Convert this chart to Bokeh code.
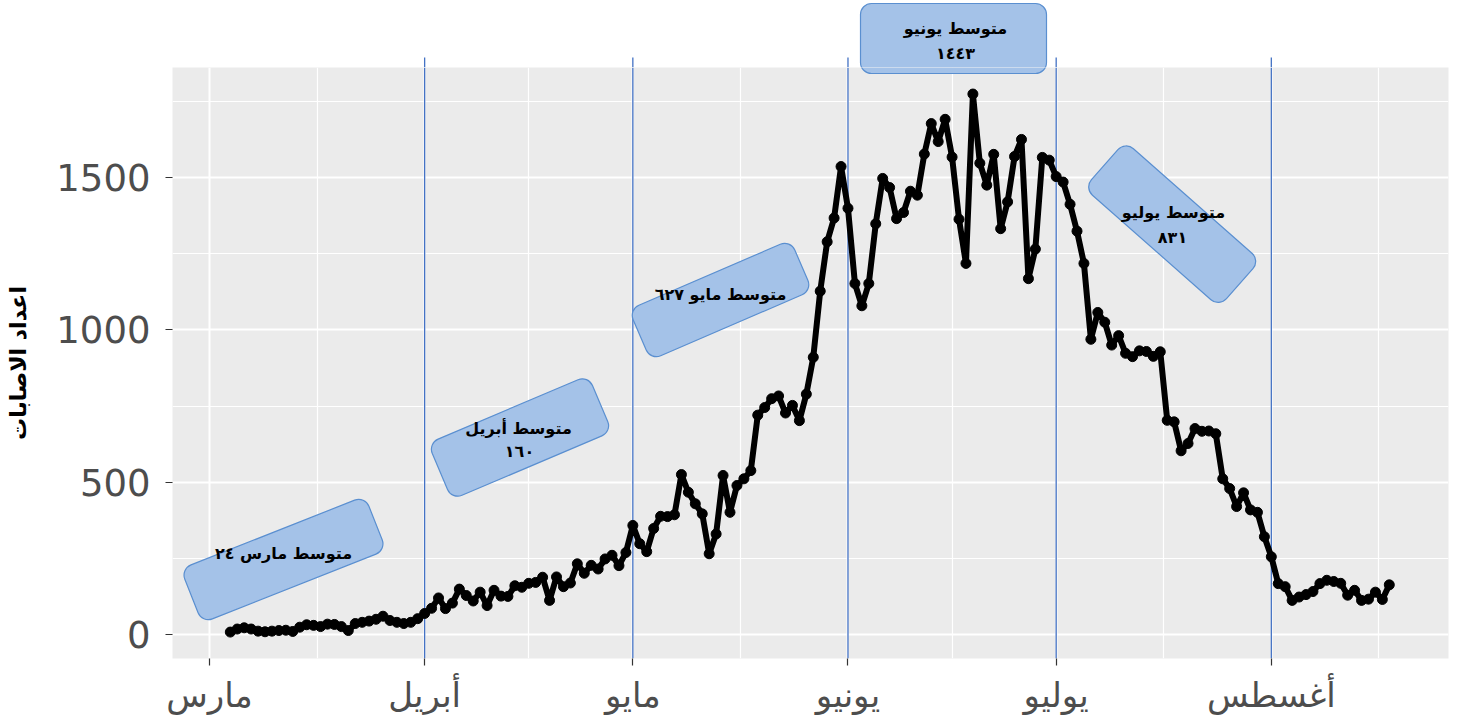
import math
from bokeh.plotting import figure
from bokeh.layouts import column
from bokeh.models import Range1d, FixedTicker, Label, ColumnDataSource, Rect, BoxAnnotation
from bokeh.embed import file_html
from bokeh.resources import INLINE

# ---------------- data ----------------
# x = day index counted from 1 March (Mar 1 = 0)
month_ticks = [0, 31, 61, 92, 122, 153]
month_labels = ["مارس", "أبريل", "مايو", "يونيو", "يوليو", "أغسطس"]
month_minor = [15.5, 46, 76.5, 107, 137.5, 168.5]
month_lines = [31, 61, 92, 122, 153]

y_ticks = [0, 500, 1000, 1500]
y_minor = [250, 750, 1250, 1750]

first_day = 3  # 4 March

march_cases = [8, 18, 22, 18, 11, 9, 11, 13, 14, 10, 24, 32, 30, 26,
               34, 33, 26, 13, 36, 40, 44, 50, 60, 46, 40, 36, 40, 52]
april_cases = [69, 86, 120, 85, 103, 149, 128, 110, 139, 95, 145, 126, 125, 160, 155,
               168, 171, 188, 112, 189, 157, 169, 232, 201, 227, 215, 248, 260, 226, 269]
may_cases = [358, 298, 272, 348, 388, 387, 393, 525, 467, 429, 396, 265, 330, 522, 401,
             489, 511, 538, 720, 745, 774, 783, 727, 752, 702, 789, 910, 1127, 1289, 1367, 1536]
june_cases = [1399, 1152, 1079, 1152, 1348, 1497, 1467, 1365, 1385, 1455, 1442, 1577, 1677, 1618, 1691,
              1567, 1363, 1218, 1774, 1547, 1475, 1576, 1332, 1420, 1569, 1625, 1168, 1265, 1566, 1557]
july_cases = [1503, 1485, 1412, 1324, 1218, 969, 1057, 1025, 950, 981, 923, 912, 931, 929, 913, 928,
              703, 698, 603, 627, 676, 667, 668, 659, 511, 479, 420, 465, 409, 401, 321]
august_cases = [255, 167, 157, 112, 123, 131, 141, 167, 178, 174, 168, 129, 145, 112, 116, 139, 115, 163]

cases = march_cases + april_cases + may_cases + june_cases + july_cases + august_cases
days = list(range(first_day, first_day + len(cases)))

y_title = "اعداد الاصابات"

FILL = "#A4C2E8"
EDGE = "#5A8FD0"
VLINE = "#4472C4"

# ---------------- geometry helpers (pixel -> data) ----------------
def px_to_day(px):
    return (px - 209) / 6.94

def py_to_val(py):
    return (634 - py) * 500 / 152.33

X_LEFT, X_RIGHT = px_to_day(172), px_to_day(1448)
Y_BOTTOM = py_to_val(658)
PANEL_TOP = py_to_val(67)
PAGE_TOP = py_to_val(0)

TOP_H = 67

# ---------------- main figure (the ggplot panel) ----------------
p = figure(width=1460, height=721 - TOP_H,
           x_range=Range1d(X_LEFT, X_RIGHT), y_range=Range1d(Y_BOTTOM, PANEL_TOP),
           output_backend="svg", toolbar_location=None,
           min_border_left=172, min_border_right=12, min_border_top=0, min_border_bottom=63,
           background_fill_color="#EBEBEB", border_fill_color="white", outline_line_color=None)

p.xaxis.ticker = FixedTicker(ticks=month_ticks, minor_ticks=month_minor)
p.yaxis.ticker = FixedTicker(ticks=y_ticks, minor_ticks=y_minor)
for g in (p.xgrid, p.ygrid):
    g.grid_line_color = "white"
    g.grid_line_width = 2
    g.minor_grid_line_color = "white"
    g.minor_grid_line_width = 1.2

p.xaxis.major_label_overrides = {t: l for t, l in zip(month_ticks, month_labels)}
for ax in (p.xaxis, p.yaxis):
    ax.axis_line_color = None
    ax.major_tick_line_color = "#333333"
    ax.major_tick_line_width = 1.2
    ax.major_tick_out = 7
    ax.major_tick_in = 0
    ax.minor_tick_out = 0
    ax.minor_tick_in = 0
    ax.major_label_text_color = "#4D4D4D"
    ax.major_label_text_font = "DejaVu Sans"

p.yaxis.major_label_text_font_size = "37px"
p.yaxis.major_label_standoff = 15
p.xaxis.major_label_text_font_size = "34px"
p.xaxis.major_label_standoff = 9

p.yaxis.axis_label = y_title
p.yaxis.axis_label_text_font = "DejaVu Sans"
p.yaxis.axis_label_text_font_size = "22px"
p.yaxis.axis_label_text_font_style = "bold"
p.yaxis.axis_label_text_color = "black"
p.yaxis.axis_label_standoff = 22

# month separator lines
p.segment(x0=month_lines, y0=[Y_BOTTOM] * len(month_lines),
          x1=month_lines, y1=[PANEL_TOP] * len(month_lines),
          line_color=VLINE, line_width=1.3)

# data
p.line(days, cases, line_color="black", line_width=6, line_join="round")
p.scatter(days, cases, size=10, color="black")

# rotated annotation boxes
box_src = ColumnDataSource(dict(
    x=[px_to_day(283), px_to_day(519.5), px_to_day(720), px_to_day(1171.7)],
    y=[py_to_val(559), py_to_val(437), py_to_val(299.5), py_to_val(223.7)],
    w=[198, 174, 176, 180],
    h=[58, 61, 55, 62],
    a=[math.radians(21.6), math.radians(23.0), math.radians(23.3), math.radians(-41.4)],
))
rect_kw = {}
if "border_radius" in Rect.properties():
    rect_kw["border_radius"] = 11
p.rect(x="x", y="y", width="w", height="h", angle="a", source=box_src,
       width_units="screen", height_units="screen",
       fill_color=FILL, line_color=EDGE, line_width=1.2, **rect_kw)

texts = [
    ("متوسط مارس ٢٤", 283, 553),
    ("متوسط أبريل", 518, 428),
    ("١٦٠", 519, 451),
    ("متوسط مايو ٦٢٧", 720, 294),
    ("متوسط يوليو", 1173, 212),
    ("٨٣١", 1172, 237),
]
for t, tx, ty in texts:
    p.add_layout(Label(x=px_to_day(tx), y=py_to_val(ty), text=t,
                       text_align="center", text_baseline="middle",
                       text_font="DejaVu Sans", text_font_size="16px",
                       text_font_style="bold", text_color="black"))

# ---------------- strip above the panel (June box sticks out of the panel) ----------------
top = figure(width=1460, height=TOP_H,
             x_range=p.x_range, y_range=Range1d(PANEL_TOP, PAGE_TOP),
             output_backend="svg", toolbar_location=None,
             x_axis_location=None, y_axis_location=None,
             min_border_left=172, min_border_right=12, min_border_top=0, min_border_bottom=0,
             background_fill_color="white", border_fill_color="white", outline_line_color=None)
top.grid.visible = False

top.segment(x0=month_lines, y0=[PANEL_TOP] * len(month_lines),
            x1=month_lines, y1=[py_to_val(57)] * len(month_lines),
            line_color=VLINE, line_width=1.3)

box_kw = dict(left=px_to_day(860), right=px_to_day(1046),
              top=py_to_val(3), bottom=py_to_val(73),
              fill_color=FILL, fill_alpha=1.0, line_color=EDGE, line_width=1.2, line_alpha=1.0)
if "border_radius" in BoxAnnotation.properties():
    box_kw["border_radius"] = 11
top.add_layout(BoxAnnotation(**box_kw))
p.add_layout(BoxAnnotation(**box_kw))

for t, tx, ty in [("متوسط يونيو", 955, 28), ("١٤٤٣", 955, 53)]:
    top.add_layout(Label(x=px_to_day(tx), y=py_to_val(ty), text=t,
                         text_align="center", text_baseline="middle",
                         text_font="DejaVu Sans", text_font_size="16px",
                         text_font_style="bold", text_color="black"))

layout = column(top, p, spacing=0)
open("out.html", "w").write(file_html(layout, INLINE))
